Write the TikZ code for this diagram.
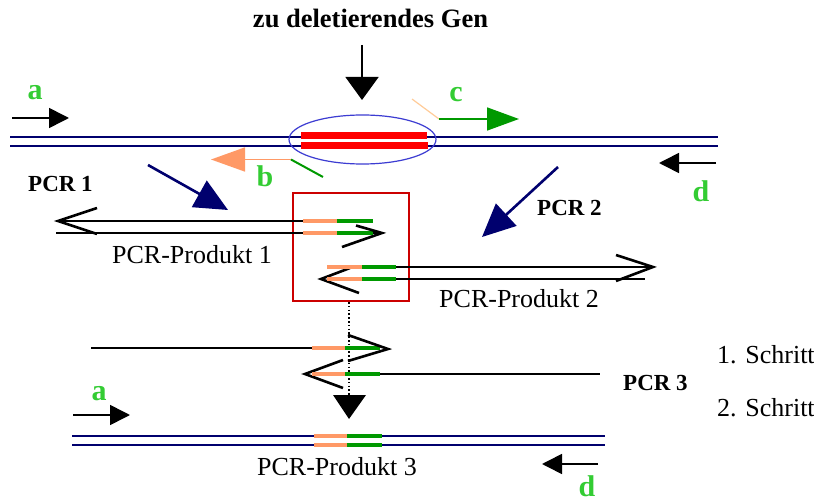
\documentclass[tikz,border=0pt]{standalone}
\usepackage{fontspec}
\setmainfont{Liberation Serif}
\usetikzlibrary{arrows.meta,shapes.geometric}
\definecolor{navy}{RGB}{0,0,110}
\definecolor{genred}{RGB}{255,0,0}
\definecolor{ringblue}{RGB}{60,60,210}
\definecolor{primorange}{RGB}{255,153,102}
\definecolor{primgreen}{RGB}{0,153,0}
\definecolor{labgreen}{RGB}{51,204,51}
\definecolor{paleorange}{RGB}{255,204,153}
\definecolor{boxred}{RGB}{204,0,0}
\begin{document}
\begin{tikzpicture}[x=1pt,y=-1pt,
  dna/.style={navy, line width=2.3pt},
  strand/.style={black, line width=2.2pt},
  chev/.style={black, line width=2.6pt},
  obar/.style={primorange, line width=4.5pt},
  gbar/.style={primgreen, line width=4.5pt},
  primer/.style={black, line width=1.6pt, -{Triangle[length=20pt,width=20pt]}},
  pcrarrow/.style={navy, line width=2.6pt, -{Triangle[length=33pt,width=30pt]}},
  letter/.style={labgreen, font=\fontsize{30}{30}\selectfont\bfseries, anchor=base, inner sep=0pt},
  pcrlabel/.style={font=\fontsize{23}{26}\selectfont\bfseries, anchor=base west, inner sep=0pt},
  plain/.style={font=\fontsize{26}{30}\selectfont, inner sep=0pt},
]
\useasboundingbox (0,0) rectangle (814,497);
\fill[white] (0,0) rectangle (814,497);

% ---------- genomic locus with the gene to be removed ----------
\node[font=\fontsize{26.5}{30}\selectfont\bfseries, anchor=base, inner sep=0pt] (title) at (370.5,28) {zu deletierendes Gen};
\coordinate (tA) at (362,45);
\coordinate (tB) at (362,100);
\draw[black, line width=1.6pt, -{Triangle[length=23pt,width=33pt]}] (tA) -- (tB);

\draw[dna] (10,137) -- (718,137);
\draw[dna] (10,146) -- (718,146);
\draw[genred, line width=7pt] (301,135.5) -- (427,135.5);
\draw[genred, line width=7pt] (301,145.5) -- (428,145.5);
\node[draw=ringblue, line width=1.2pt, ellipse, minimum width=147pt, minimum height=49pt, inner sep=0pt] (ring) at (362.5,139.5) {};

% primer a
\coordinate (a1) at (12,118);
\coordinate (a2) at (69,118);
\draw[primer] (a1) -- (a2);
\node[letter] (la) at (35,100) {a};

% primer b
\coordinate (b0) at (323,177);
\coordinate (b1) at (291,159.5);
\coordinate (b2) at (211,159.5);
\draw[primorange, line width=1.6pt, -{Triangle[length=34pt,width=24pt]}] (b1) -- (b2);
\draw[primgreen, line width=2pt] (b1) -- (b0);
\node[letter] (lb) at (265,187) {b};

% primer c
\coordinate (c0) at (412,99);
\coordinate (c1) at (439,119);
\coordinate (c2) at (519,119);
\draw[paleorange, line width=1.2pt] (c0) -- (c1);
\draw[primgreen, line width=1.6pt, -{Triangle[length=32pt,width=23pt]}] (c1) -- (c2);
\node[letter] (lc) at (456,102) {c};

% primer d
\coordinate (d1) at (716,163);
\coordinate (d2) at (659,163);
\draw[primer] (d1) -- (d2);
\node[letter] (ld) at (701,202) {d};

% ---------- first and second PCR ----------
\node[pcrlabel] (pcr1) at (28,192) {PCR 1};
\coordinate (p1a) at (148,165);
\coordinate (p1b) at (228,210);
\draw[pcrarrow] (p1a) -- (p1b);

\node[pcrlabel] (pcr2) at (537,216) {PCR 2};
\coordinate (p2a) at (558,167);
\coordinate (p2b) at (482,237);
\draw[pcrarrow] (p2a) -- (p2b);

\node[draw=boxred, line width=2pt, minimum width=116pt, minimum height=108pt, inner sep=0pt] (overlap) at (351,247) {};

% PCR product 1
\draw[strand] (58,221) -- (303,221);
\draw[strand] (56,233) -- (303,233);
\draw[obar] (303,221) -- (337,221);
\draw[gbar] (337,221) -- (373,221);
\draw[obar] (303,233) -- (337,233);
\draw[gbar] (337,233) -- (373,233);
\draw[strand] (373,233) -- (382,233);
\draw[chev] (97,208) -- (58,221) -- (97,234);
\draw[chev] (356,225.5) -- (382,233) -- (342,247);
\node[plain, anchor=base west] (prod1) at (112,263) {PCR-Produkt 1};

% PCR product 2
\draw[chev] (350,268) -- (321,279) -- (359,293);
\draw[obar] (327,267) -- (362,267);
\draw[gbar] (362,267) -- (396,267);
\draw[obar] (327,279) -- (362,279);
\draw[gbar] (362,279) -- (396,279);
\draw[strand] (396,267) -- (653,267);
\draw[strand] (396,279) -- (645,279);
\draw[chev] (616,255) -- (653,267) -- (616,281);
\node[plain, anchor=base west] (prod2) at (439,307) {PCR-Produkt 2};

% ---------- third PCR: annealing of the overlapping ends ----------
\coordinate (dotA) at (349,302);
\coordinate (dotB) at (349,396);
\draw[black, line width=2pt, dash pattern=on 1.6pt off 2.2pt] (dotA) -- (dotB);

\draw[strand] (91,348) -- (312,348);
\draw[obar] (312,348) -- (345,348);
\draw[gbar] (345,348) -- (380,348);
\draw[chev] (348,335) -- (388,349) -- (348,361);

\draw[chev] (343,360) -- (305,374) -- (343,388);
\draw[obar] (312,374) -- (345,374);
\draw[gbar] (345,374) -- (380,374);
\draw[strand] (380,374) -- (600,374);

\fill[black] (333,395) -- (366,395) -- (349,419) -- cycle;

\node[plain, anchor=base west] (step1) at (717,363) {1. Schritt};
\node[pcrlabel] (pcr3) at (623,390) {PCR 3};
\node[plain, anchor=base west] (step2) at (717,416) {2. Schritt};

% fused product
\draw[dna] (72,436) -- (605,436);
\draw[dna] (72,445) -- (605,445);
\draw[obar] (314,436) -- (347,436);
\draw[gbar] (347,436) -- (382,436);
\draw[obar] (314,445) -- (347,445);
\draw[gbar] (347,445) -- (382,445);

\coordinate (a3) at (73,415);
\coordinate (a4) at (130,415);
\draw[primer] (a3) -- (a4);
\node[letter] (la2) at (99,400) {a};

\coordinate (d3) at (598,464);
\coordinate (d4) at (542,464);
\draw[primer] (d3) -- (d4);
\node[letter] (ld2) at (587,496) {d};

\node[plain, anchor=base] (prod3) at (337,475) {PCR-Produkt 3};
\end{tikzpicture}
\end{document}
